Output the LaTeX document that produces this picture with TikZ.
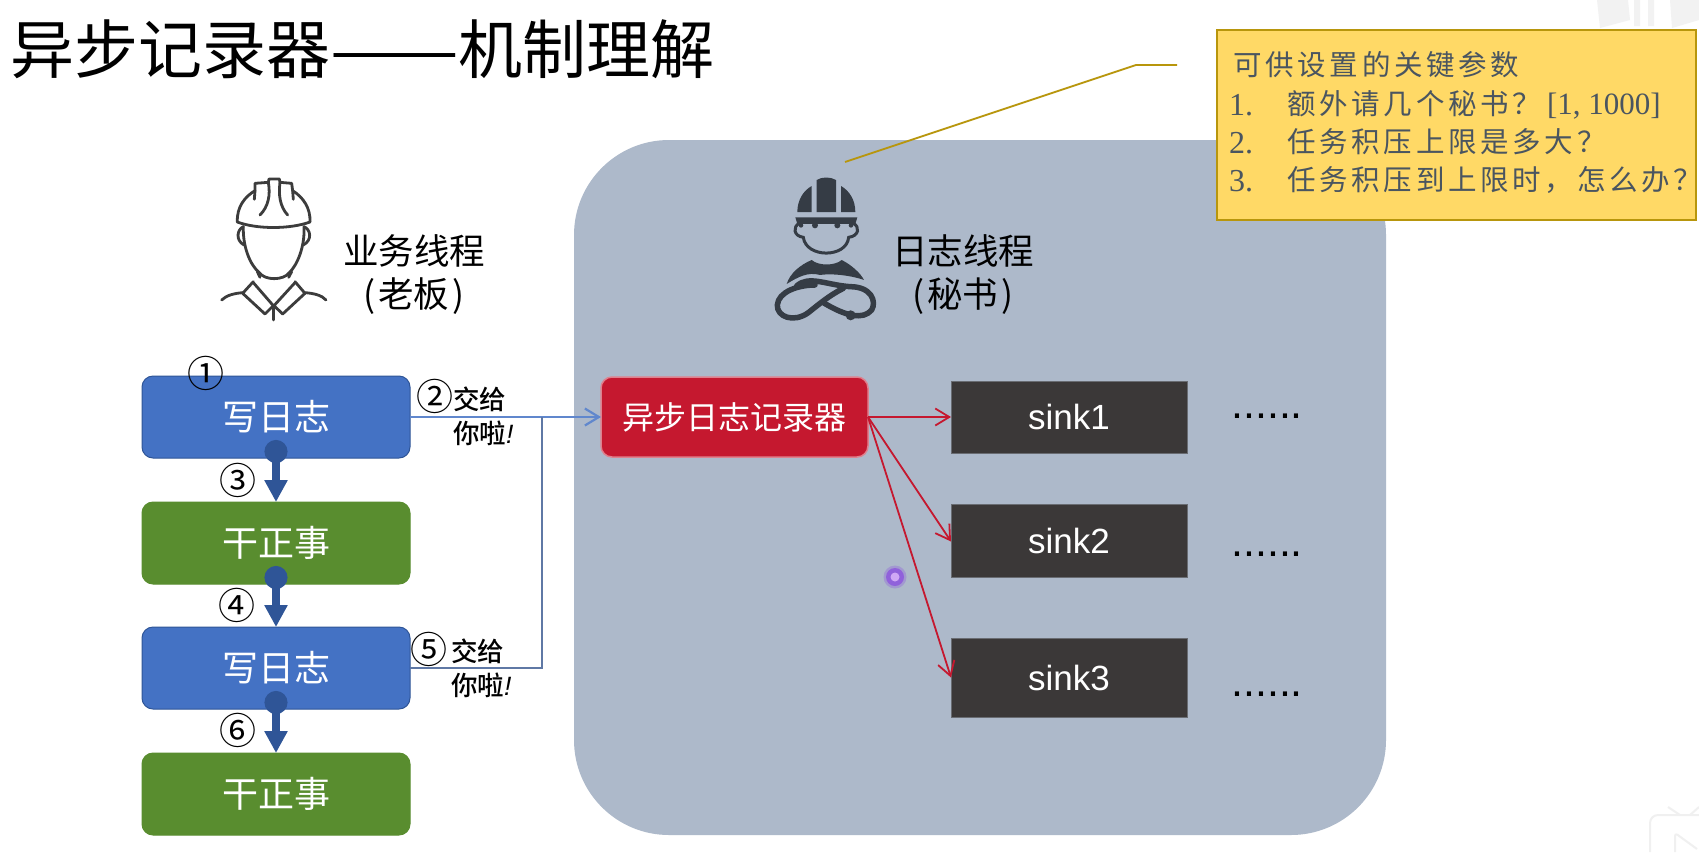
\documentclass[tikz,border=0pt]{standalone}
\usepackage{fontspec}
\usetikzlibrary{arrows.meta}
\setmainfont{Noto Sans CJK SC}
\newfontfamily\latinsans{Liberation Sans}
\newfontfamily\latinserif{Liberation Serif}
\newfontfamily\tipfont{Noto Sans CJK SC Medium}
\newcommand{\sizept}[2]{\fontsize{#1}{#2}\selectfont}
\definecolor{panelbg}{HTML}{ADB9CA}
\definecolor{writeblue}{HTML}{4472C4}
\definecolor{flowblue}{HTML}{2F5597}
\definecolor{workgreen}{HTML}{598D2F}
\definecolor{loggerred}{HTML}{C5182F}
\definecolor{sinkdark}{HTML}{3B3838}
\definecolor{notefill}{HTML}{FFD966}
\definecolor{noteline}{HTML}{B8960C}
\definecolor{noteink}{HTML}{4A5560}
\definecolor{inkline}{HTML}{3C3C3C}
\definecolor{inkfill}{HTML}{353C45}
\definecolor{spotglow}{HTML}{8A4FE0}
\definecolor{spotcore}{HTML}{D0A8F5}
\tikzset{
  stagebox/.style={rounded corners=11pt,minimum width=268pt,minimum height=82pt,inner sep=0pt,outer sep=0pt,
    text=white,font=\sizept{36}{40},line width=1pt},
  writebox/.style={stagebox,fill=writeblue,draw=flowblue},
  workbox/.style={stagebox,fill=workgreen,draw=workgreen},
  sinkbox/.style={fill=sinkdark,draw=sinkdark!60!panelbg,line width=1pt,minimum width=236pt,inner sep=0pt,outer sep=0pt,
    text=white,font=\latinsans\sizept{35}{40}},
  flowstep/.style={line width=8pt,draw=flowblue,
    {Circle[length=23pt,width=23pt,fill=flowblue]}-{Triangle[length=22pt,width=22pt,fill=flowblue]}},
  handover/.style={line width=2.2pt,draw=writeblue!85!white},
  callarrow/.style={line width=1.8pt,draw=loggerred,-{Straight Barb[length=14pt,width=17pt,line width=1.8pt]}},
  stepmark/.style={inner sep=0pt,font=\sizept{37}{40}},
  tiptext/.style={inner sep=0pt,anchor=west,font=\tipfont\sizept{26.5}{28}},
  roletext/.style={align=center,inner sep=0pt,font=\sizept{35.5}{43}},
  notetext/.style={inner sep=0pt,anchor=base west,text=noteink,font=\addfontfeature{LetterSpace=13}\sizept{28.5}{30}},
  notenum/.style={inner sep=0pt,anchor=base west,text=noteink,font=\latinserif\sizept{32}{32}},
  dotrow/.style={inner sep=0pt,anchor=base west,font=\latinsans\sizept{43}{44}},
  hatline/.style={line width=2.8pt,draw=inkline,line cap=round,line join=round},
  faintmark/.style={line width=2pt,draw=gray!12,line join=round},
}
\begin{document}
\begin{tikzpicture}[x=1pt,y=-1pt]
\useasboundingbox (0,0) rectangle (1699,852);
\fill[white] (0,0) rectangle (1699,852);

% heading
\node[inner sep=0pt,anchor=west,font=\sizept{64}{70}] (heading) at (10,49) {异步记录器\scalebox{1.2}[1]{——}机制理解};

% pale channel marks in the corners
\fill[gray!10] (1597,0) -- (1628,0) -- (1630,20) -- (1600,28) -- cycle;
\fill[gray!10] (1634,0) rectangle (1640,26) (1648,0) rectangle (1654,26);
\fill[gray!10] (1670,0) -- (1699,0) -- (1699,20) -- (1672,28) -- cycle;
\draw[faintmark,rounded corners=8pt] (1699,815) -- (1650,815) -- (1650,852);
\draw[faintmark] (1668,807) -- (1680,815) (1699,807) -- (1690,815);
\draw[faintmark,rounded corners=3pt] (1675,852) -- (1675,833) -- (1697,849);

% panel behind the logging thread
\fill[panelbg,rounded corners=95pt] (574,140) rectangle (1386,835);

% foreman with outline helmet
\begin{scope}[shift={(200,160)},x=0.3333pt,y=-0.3333pt]
  \draw[hatline] (112,186) .. controls (170,208) and (270,208) .. (330,186);
  \draw[hatline] (112,186) .. controls (110,140) and (135,110) .. (165,92) -- (165,70) -- (205,67) -- (207,57) -- (238,57) -- (240,67) -- (275,70) -- (278,92) .. controls (310,112) and (332,145) .. (330,186);
  \draw[hatline] (165,92) -- (163,118);
  \draw[hatline] (278,92) -- (280,118);
  \draw[hatline] (205,67) .. controls (212,105) and (205,140) .. (180,165);
  \draw[hatline] (240,67) .. controls (235,105) and (240,140) .. (263,165);
  \draw[hatline] (130,200) .. controls (112,208) and (105,240) .. (132,255);
  \draw[hatline] (312,200) .. controls (332,208) and (338,240) .. (310,255);
  \draw[hatline] (130,200) .. controls (128,260) and (150,315) .. (178,338) .. controls (195,362) and (250,362) .. (268,338) .. controls (292,315) and (315,260) .. (312,200);
  \draw[hatline] (172,335) -- (180,352);
  \draw[hatline] (275,335) -- (266,352);
  \draw[hatline] (160,365) -- (128,400) -- (195,462) -- (220,437) -- (160,368);
  \draw[hatline] (285,365) -- (315,400) -- (248,462) -- (222,437) -- (285,368);
  \draw[hatline] (220,437) -- (220,480);
  \draw[hatline] (65,420) .. controls (80,405) and (105,400) .. (128,398);
  \draw[hatline] (315,398) .. controls (340,400) and (365,405) .. (378,420);
\end{scope}
\node[roletext] (bossrole) at (414,275) {业务线程\\(\hspace{3pt}老板\hspace{3pt})};

% secretary with solid helmet and crossed arms
\begin{scope}[shift={(740,160)},x=0.3333pt,y=-0.3333pt]
  \fill[inkfill] (172,156) .. controls (172,120) and (190,92) .. (215,78) -- (215,156) -- cycle;
  \fill[inkfill] (230,156) -- (230,60) .. controls (245,50) and (272,50) .. (288,60) -- (288,156) -- cycle;
  \fill[inkfill] (303,78) .. controls (328,92) and (346,120) .. (346,156) -- (303,156) -- cycle;
  \fill[inkfill] (166,172) -- (352,172) -- (346,192) -- (172,192) -- cycle;
  \fill[inkfill] (225,196) circle (3pt) (292,196) circle (3pt) (183,196) circle (2.3pt) (333,196) circle (2.3pt);
  \draw[line width=3pt,draw=inkfill,line cap=round] (178,190) .. controls (158,200) and (160,228) .. (190,232) .. controls (198,295) and (320,295) .. (326,232) .. controls (358,228) and (360,200) .. (340,190);
  \fill[inkfill] (140,372) .. controls (150,340) and (180,315) .. (215,300) .. controls (235,318) and (285,318) .. (305,300) .. controls (335,315) and (362,340) .. (372,360) .. controls (330,345) and (270,340) .. (240,345) .. controls (205,335) and (175,350) .. (140,372) -- cycle;
  \draw[line width=5.5pt,draw=inkfill,line cap=round,line join=round] (170,378) .. controls (205,345) and (260,375) .. (330,380) .. controls (395,380) and (410,425) .. (395,450) .. controls (370,480) and (320,470) .. (250,428);
  \draw[line width=5.5pt,draw=inkfill,line cap=round,line join=round] (225,375) .. controls (175,375) and (115,395) .. (112,435) .. controls (110,470) and (160,490) .. (205,458) .. controls (240,430) and (270,405) .. (310,385);
  \fill[inkfill] (332,466) circle (5pt);
\end{scope}
\node[roletext] (secrole) at (963,275) {日志线程\\(\hspace{3pt}秘书\hspace{3pt})};

% stages of the business thread
\node[writebox] (write1) at (276,417) {写日志};
\node[workbox]  (work1)  at (276,543) {干正事};
\node[writebox] (write2) at (276,668) {写日志};
\node[workbox]  (work2)  at (276,794) {干正事};

\draw[flowstep] ([yshift=18pt]write1.south) -- (work1.north);
\draw[flowstep] ([yshift=18pt]work1.south) -- (write2.north);
\draw[flowstep] ([yshift=18pt]write2.south) -- (work2.north);

\node[stepmark] (mark1) at (206,373) {①};
\node[stepmark] (mark2) at (435,396) {②};
\node[stepmark] (mark3) at (238,480) {③};
\node[stepmark] (mark4) at (237,605) {④};
\node[stepmark] (mark5) at (429,649) {⑤};
\node[stepmark] (mark6) at (238,730) {⑥};

\node[tiptext] (tip1a) at (453,399) {交给};
\node[tiptext] (tip1b) at (453,433) {你啦{\latinsans\itshape !}};
\node[tiptext] (tip2a) at (451,651) {交给};
\node[tiptext] (tip2b) at (451,685) {你啦{\latinsans\itshape !}};

% logger and its sinks
\node[fill=loggerred,draw=loggerred!55!white,line width=1.5pt,rounded corners=11pt,minimum width=267pt,minimum height=80pt,
  inner sep=0pt,outer sep=0pt,text=white,font=\sizept{32}{36}] (logger) at (734.5,417) {异步日志记录器};
\node[sinkbox,minimum height=72pt] (sink1) at (1069,417) {sink1};
\node[sinkbox,minimum height=73pt] (sink2) at (1069,540.5) {sink2};
\node[sinkbox,minimum height=79pt] (sink3) at (1069,677.5) {sink3};

% hand-over lines from the business thread
\coordinate (merge) at (542,417);
\draw[handover,-{Straight Barb[length=14pt,width=17pt,line width=2.2pt]}] (write1.east) -- (logger.west);
\draw[line width=2.2pt,draw=writeblue!55!gray] (write2.east) -| (merge);

% calls from the logger into the sinks
\coordinate (loggerout) at (868,417);
\draw[callarrow] (loggerout) -- (sink1.west);
\draw[callarrow] (loggerout) -- ([yshift=-1pt]sink2.west);
\draw[callarrow] (loggerout) -- (sink3.west);

\node[dotrow] (more1) at (1231,418) {......};
\node[dotrow] (more2) at (1231,556) {......};
\node[dotrow] (more3) at (1231,696) {......};

% pointer spot
\fill[spotglow,opacity=.3] (895,577) circle (11.5pt);
\fill[spotglow,opacity=.75] (895,577) circle (9pt);
\fill[spotcore] (895,577) circle (4.5pt);

% settings note and its leader
\node[fill=notefill,draw=noteline,line width=2pt,minimum width=479pt,minimum height=190pt,inner sep=0pt,outer sep=0pt] (note) at (1456.5,125) {};
\coordinate (leaderend) at (1177,65);
\coordinate (leaderbend) at (1136,65);
\coordinate (leaderfoot) at (845,162);
\draw[line width=1.8pt,draw=noteline] (leaderend) -- (leaderbend) -- (leaderfoot);
\node[notetext] (notehead) at (1233,75) {可供设置的关键参数};
\node[notenum] (num1) at (1229,115) {1.};
\node[notetext] (item1) at (1287,114) {额外请几个秘书？{\latinserif\addfontfeature{LetterSpace=0}\sizept{31}{31}\hspace{6pt}[1, 1000]}};
\node[notenum] (num2) at (1229,153) {2.};
\node[notetext] (item2) at (1287,152) {任务积压上限是多大？};
\node[notenum] (num3) at (1229,191) {3.};
\node[notetext] (item3) at (1287,190) {任务积压到上限时，怎么办？};
\end{tikzpicture}
\end{document}
